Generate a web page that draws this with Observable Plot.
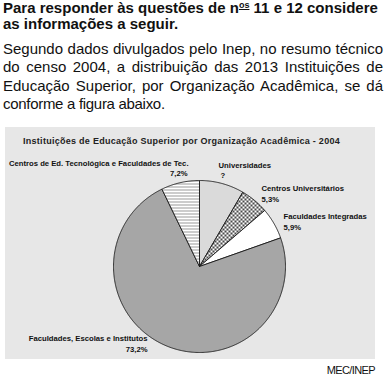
<!DOCTYPE html>
<html>
<head>
<meta charset="utf-8">
<script src="https://cdn.jsdelivr.net/npm/d3@7"></script>
<script src="https://cdn.jsdelivr.net/npm/@observablehq/plot@0.6"></script>
<style>
  html, body { margin: 0; padding: 0; background: #fff; }
  body { width: 387px; height: 383px; position: relative; overflow: hidden; font-family: "Liberation Sans", Arial, sans-serif; color: #111; }
  #heading { position: absolute; left: 3px; top: 0px; width: 384px; font-weight: bold; font-size: 15px; line-height: 15.6px; white-space: nowrap; }
  #heading sup { font-size: 9px; vertical-align: 5px; text-decoration: underline; line-height: 0; }
  #para { position: absolute; left: 3px; top: 40px; width: 380px; font-size: 15px; line-height: 18.3px; }
  #para .ln { text-align: justify; text-align-last: justify; white-space: nowrap; }
  #para .last { text-align: left; letter-spacing: -0.3px; white-space: nowrap; }
  #box { position: absolute; left: 5px; top: 127px; width: 370px; height: 232px; background: #e7e7e7; }
  #title { position: absolute; left: 18px; top: 8px; font-size: 9px; font-weight: bold; line-height: 12px; white-space: nowrap; color: #222; }
  #chart { position: absolute; left: 0; top: 20px; }
  #source { position: absolute; right: 12px; top: 363px; font-size: 11px; line-height: 14px; letter-spacing: -0.6px; color: #111; }
</style>
</head>
<body>
<svg width="0" height="0" style="position:absolute">
  <defs>
    <pattern id="pat-dots" width="2" height="2" patternUnits="userSpaceOnUse">
      <rect width="2" height="2" fill="#ffffff"/>
      <rect width="1" height="1" fill="#6a6a6a"/>
    </pattern>
    <pattern id="pat-cross" width="4" height="4" patternUnits="userSpaceOnUse">
      <rect width="4" height="4" fill="#ffffff"/>
      <rect x="0" y="0" width="1" height="1" fill="#4a4a4a"/>
      <rect x="1" y="1" width="1" height="1" fill="#4a4a4a"/>
      <rect x="2" y="2" width="1" height="1" fill="#4a4a4a"/>
      <rect x="3" y="3" width="1" height="1" fill="#4a4a4a"/>
      <rect x="3" y="0" width="1" height="1" fill="#4a4a4a"/>
      <rect x="2" y="1" width="1" height="1" fill="#4a4a4a"/>
      <rect x="1" y="2" width="1" height="1" fill="#4a4a4a"/>
      <rect x="0" y="3" width="1" height="1" fill="#4a4a4a"/>
    </pattern>
    <pattern id="pat-hlines" width="3" height="3" patternUnits="userSpaceOnUse">
      <rect width="3" height="3" fill="#ffffff"/>
      <rect y="0" width="3" height="1" fill="#999999"/>
    </pattern>
  </defs>
</svg>

<div id="heading">Para responder às questões de n<sup>os</sup> 11 e 12 considere<br>as informações a seguir.</div>
<div id="para">
  <div class="ln">Segundo dados divulgados pelo Inep, no resumo técnico</div>
  <div class="ln">do censo 2004, a distribuição das 2013 Instituições de</div>
  <div class="ln">Educação Superior, por Organização Acadêmica, se dá</div>
  <div class="last">conforme a figura abaixo.</div>
</div>
<div id="box">
  <div id="title">Instituições de Educação Superior por Organização Acadêmica - 2004</div>
  <div id="chart"></div>
</div>
<div id="source">MEC/INEP</div>

<script>
// ---- data ----
const categories = [
  "Universidades",
  "Centros Universitários",
  "Faculdades Integradas",
  "Faculdades, Escolas e Institutos",
  "Centros de Ed. Tecnológica e Faculdades de Tec."
];
const values = [8.4, 5.3, 5.9, 73.2, 7.2];           // percent (Universidades shown as "?")
const valueLabels = ["?", "5,3%", "5,9%", "73,2%", "7,2%"];

// ---- styles (kept apart from data) ----
const sliceFills = ["url(#pat-dots)", "url(#pat-cross)", "#ffffff", "#a6a6a6", "url(#pat-hlines)"];
const labelLayout = [
  {anchor: "start", dx: -3.4, dy: -18,  vdx: -1.4, vdy: -8},
  {anchor: "start", dx: 7,    dy: -12,  vdx: 7,    vdy: -1},
  {anchor: "start", dx: 9.6,  dy: -7,   vdx: 9.6,  vdy: 4},
  {anchor: "end",   dx: -19.3, dy: -7.6, vdx: -19.3, vdy: 3.4},
  {anchor: "end",   dx: 8.3,  dy: -19.2, vdx: 7.3, vdy: -9.2}
];

// fit title width
(function () {
  const t = document.getElementById("title");
  const w = t.getBoundingClientRect().width;
  const target = 317;
  const n = t.textContent.length;
  t.style.letterSpacing = ((target - w) / n) + "px";
})();

const arcs = d3.pie().sort(null).value(d => d)(values);

const marks = [];
arcs.forEach((a, i) => {
  const pts = [{u: 0, v: 0}];
  const steps = Math.max(8, Math.ceil((a.endAngle - a.startAngle) / 0.01));
  for (let k = 0; k <= steps; k++) {
    const ang = a.startAngle + (a.endAngle - a.startAngle) * k / steps;
    pts.push({u: Math.sin(ang), v: Math.cos(ang)});
  }
  pts.push({u: 0, v: 0});
  marks.push(Plot.line(pts, {x: "u", y: "v", fill: sliceFills[i], stroke: "#1a1a1a", strokeWidth: 0.9, strokeLinejoin: "miter"}));
});

const labelRows = arcs.map((a, i) => {
  const mid = (a.startAngle + a.endAngle) / 2;
  return {u: Math.sin(mid), v: Math.cos(mid), name: categories[i], val: valueLabels[i]};
});

labelRows.forEach((r, i) => {
  const L = labelLayout[i];
  marks.push(Plot.text([r], {x: "u", y: "v", text: "name", textAnchor: L.anchor, dx: L.dx, dy: L.dy,
    fontSize: 7.7, fontWeight: "bold", fontFamily: "Liberation Sans, Arial, sans-serif", fill: "#111"}));
  marks.push(Plot.text([r], {x: "u", y: "v", text: "val", textAnchor: L.anchor, dx: L.vdx, dy: L.vdy,
    fontSize: 7.7, fontWeight: "bold", fontFamily: "Liberation Sans, Arial, sans-serif", fill: "#111"}));
});

const chart = Plot.plot({
  width: 370,
  height: 212,
  margin: 0,
  x: {domain: [-194 / 86, 176 / 86], axis: null},
  y: {domain: [(119 - 212) / 86, 119 / 86], axis: null},
  style: {background: "transparent", overflow: "visible"},
  marks
});
document.getElementById("chart").appendChild(chart);
</script>
</body>
</html>
